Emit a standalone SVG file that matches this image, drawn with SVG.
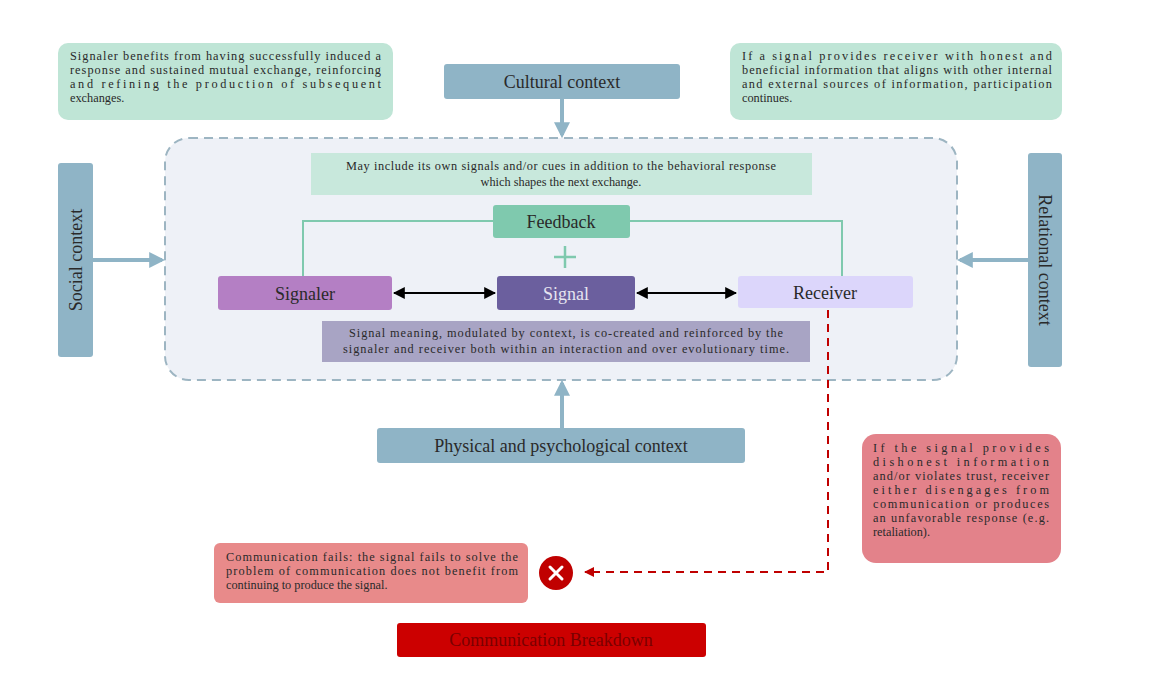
<svg xmlns="http://www.w3.org/2000/svg" width="1153" height="691" viewBox="0 0 1153 691">
<defs>
<style>
text{font-family:"Liberation Serif","DejaVu Serif",serif;fill:#2a2a2a}
.n{font-size:12.3px}
.ctx{fill:#8fb4c6}
.lbl{font-size:18px;text-anchor:middle}
.c{text-anchor:middle}
</style>
<marker id="ab" viewBox="0 0 10 10" refX="8" refY="5" markerWidth="4" markerHeight="4" orient="auto"><path d="M0,0L10,5L0,10z" fill="#8fb4c6"/></marker>
<marker id="ak" viewBox="0 0 10 10" refX="9" refY="5" markerWidth="6" markerHeight="6" orient="auto-start-reverse"><path d="M0,0L10,5L0,10z" fill="#000"/></marker>
<marker id="ar" viewBox="0 0 10 10" refX="9" refY="5" markerWidth="5" markerHeight="5" orient="auto"><path d="M0,0L10,5L0,10z" fill="#c00000"/></marker>
</defs>
<rect width="1153" height="691" fill="#fff"/>
<g id="frame"><rect x="165" y="138" width="792" height="242" rx="24" fill="#eef1f7" stroke="#9db5c2" stroke-width="2" stroke-dasharray="9 6"/></g>
<g id="connectors" fill="none">
<line x1="562" y1="99" x2="562" y2="135" stroke="#8fb4c6" stroke-width="4" marker-end="url(#ab)"/>
<line x1="93" y1="260" x2="162" y2="260" stroke="#8fb4c6" stroke-width="4" marker-end="url(#ab)"/>
<line x1="1028" y1="260" x2="960" y2="260" stroke="#8fb4c6" stroke-width="4" marker-end="url(#ab)"/>
<line x1="562" y1="428" x2="562" y2="383" stroke="#8fb4c6" stroke-width="4" marker-end="url(#ab)"/>
<polyline points="493,221 303,221 303,276" stroke="#7fc9ae" stroke-width="2"/>
<polyline points="630,221 842,221 842,276" stroke="#7fc9ae" stroke-width="2"/>
<line x1="394" y1="293" x2="495" y2="293" stroke="#000" stroke-width="2" marker-start="url(#ak)" marker-end="url(#ak)"/>
<line x1="637" y1="293" x2="736" y2="293" stroke="#000" stroke-width="2" marker-start="url(#ak)" marker-end="url(#ak)"/>
<polyline points="828,310 828,572 585,572" stroke="#c00000" stroke-width="2" stroke-dasharray="8 6" marker-end="url(#ar)"/>
</g>
<g id="note-tl"><rect x="58" y="43" width="335" height="77" rx="10" fill="#bfe5d6"/>
<text class="n" x="70" y="60" textLength="311">Signaler benefits from having successfully induced a</text>
<text class="n" x="70" y="74" textLength="311">response and sustained mutual exchange, reinforcing</text>
<text class="n" x="70" y="88" textLength="311">and refining the production of subsequent</text>
<text class="n" x="70" y="102">exchanges.</text></g>
<g id="cultural"><rect class="ctx" x="444" y="64" width="236" height="35" rx="3"/><text class="lbl" x="562" y="88">Cultural context</text></g>
<g id="note-tr"><rect x="730" y="43" width="332" height="77" rx="10" fill="#bfe5d6"/>
<text class="n" x="742" y="60" textLength="310">If a signal provides receiver with honest and</text>
<text class="n" x="742" y="74" textLength="310">beneficial information that aligns with other internal</text>
<text class="n" x="742" y="88" textLength="310">and external sources of information, participation</text>
<text class="n" x="742" y="102">continues.</text></g>
<g id="social"><rect class="ctx" x="58" y="163" width="35" height="194" rx="3"/><text class="lbl" transform="translate(82,260) rotate(-90)">Social context</text></g>
<g id="relational"><rect class="ctx" x="1028" y="153" width="34" height="214" rx="3"/><text class="lbl" transform="translate(1039,260) rotate(90)">Relational context</text></g>
<g id="note-top"><rect x="311" y="153" width="501" height="42" fill="#c8e8dc"/>
<text class="n c" x="561" y="170" textLength="430">May include its own signals and/or cues in addition to the behavioral response</text>
<text class="n c" x="561" y="186">which shapes the next exchange.</text></g>
<g id="feedback"><rect x="493" y="205" width="137" height="33" rx="3" fill="#7fc9ae"/><text class="lbl" x="561" y="228">Feedback</text></g>
<g id="plus"><path d="M565,246v22M554,257h22" stroke="#7fc9ae" stroke-width="2.5"/></g>
<g id="signaler"><rect x="218" y="276" width="174" height="34" rx="3" fill="#b47fc4"/><text class="lbl" x="305" y="300">Signaler</text></g>
<g id="signal"><rect x="497" y="276" width="138" height="34" rx="3" fill="#6b5f9e"/><text class="lbl" x="566" y="300" style="fill:#e6e4f0">Signal</text></g>
<g id="receiver"><rect x="738" y="276" width="175" height="32" rx="3" fill="#dcd6fb"/><text class="lbl" x="825" y="299">Receiver</text></g>
<g id="note-bottom"><rect x="322" y="321" width="488" height="41" fill="#a8a4c4"/>
<text class="n c" x="566" y="337" textLength="434">Signal meaning, modulated by context, is co-created and reinforced by the</text>
<text class="n c" x="566" y="353" textLength="446">signaler and receiver both within an interaction and over evolutionary time.</text></g>
<g id="physical"><rect class="ctx" x="377" y="428" width="368" height="35" rx="3"/><text class="lbl" x="561" y="452">Physical and psychological context</text></g>
<g id="note-red"><rect x="862" y="434" width="199" height="129" rx="14" fill="#e3828a"/>
<text class="n" x="873" y="452" textLength="176">If the signal provides</text>
<text class="n" x="873" y="466" textLength="176">dishonest information</text>
<text class="n" x="873" y="480" textLength="176">and/or violates trust, receiver</text>
<text class="n" x="873" y="494" textLength="176">either disengages from</text>
<text class="n" x="873" y="508" textLength="176">communication or produces</text>
<text class="n" x="873" y="522" textLength="176">an unfavorable response (e.g.</text>
<text class="n" x="873" y="536">retaliation).</text></g>
<g id="fail"><rect x="214" y="543" width="314" height="60" rx="6" fill="#e88a8a"/>
<text class="n" x="226" y="561" textLength="292">Communication fails: the signal fails to solve the</text>
<text class="n" x="226" y="575" textLength="292">problem of communication does not benefit from</text>
<text class="n" x="226" y="589">continuing to produce the signal.</text></g>
<g id="x-icon"><circle cx="556" cy="573" r="17" fill="#c00000"/><path d="M550,567l12,12M562,567l-12,12" stroke="#fff" stroke-width="3" stroke-linecap="round"/></g>
<g id="breakdown"><rect x="397" y="623" width="309" height="34" rx="3" fill="#cc0000"/><text class="lbl" x="551" y="646" style="fill:#7a0000">Communication Breakdown</text></g>
</svg>
